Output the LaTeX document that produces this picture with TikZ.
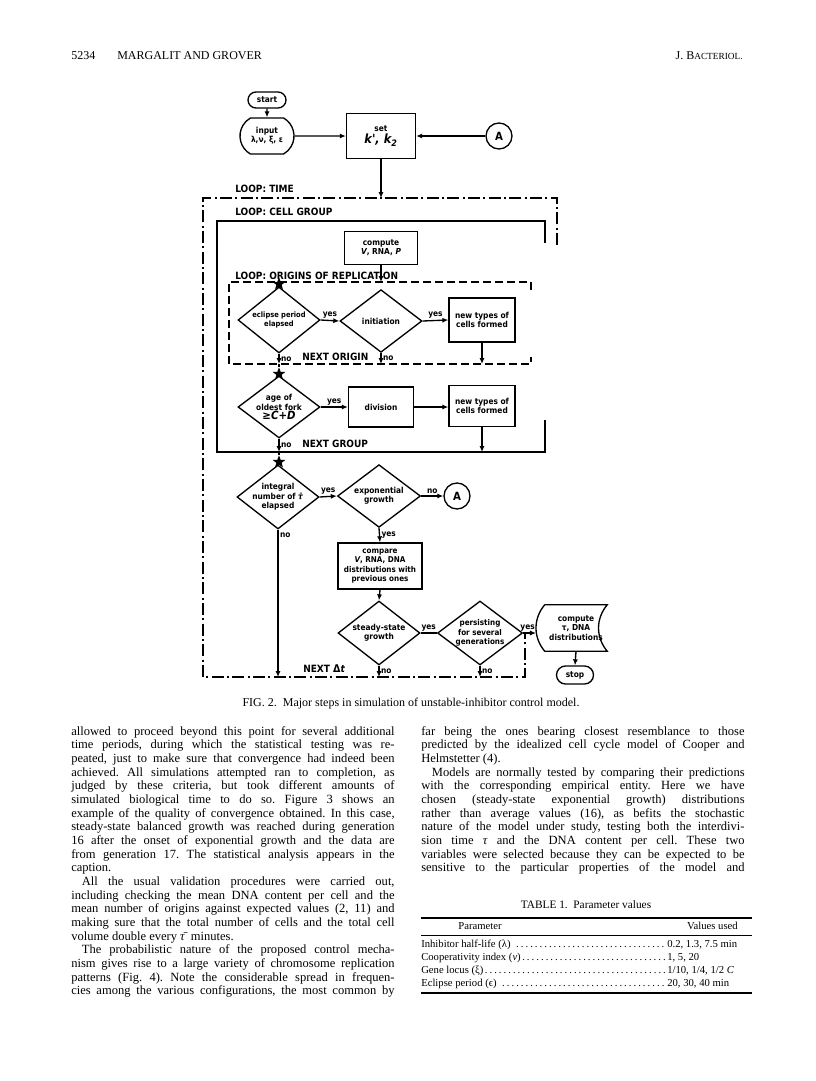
\documentclass[tikz,border=0pt]{standalone}
\usepackage{fontspec}
\setmainfont{Liberation Serif}
\newfontfamily\flowfont{DejaVu Sans Condensed}
\usetikzlibrary{arrows.meta, shapes.geometric, shapes.misc}

\newlength{\colw}\setlength{\colw}{242.5pt}
\newlength{\parind}\setlength{\parind}{8pt}
% justified, indented and last lines of a column
\newcommand{\jl}[1]{\makebox[\colw][s]{#1}}
\newcommand{\il}[1]{\hspace*{\parind}\makebox[\dimexpr\colw-\parind\relax][s]{#1}}
\newcommand{\rl}[1]{#1}
\frenchspacing

\begin{document}
\begin{tikzpicture}[
        x=0.75pt, y=-0.75pt,
        font=\flowfont\bfseries\fontsize{6.2}{7}\selectfont,
        box/.style={draw, line width=1pt, align=center, inner sep=0pt},
        dia/.style={draw, diamond, line width=1pt, inner sep=0pt, minimum width=61.5pt, minimum height=48pt},
        term/.style={draw, rounded rectangle, line width=1pt, inner sep=0pt, align=center},
        conn/.style={draw, circle, line width=1pt, inner sep=0pt, minimum size=19.5pt, font=\flowfont\bfseries\fontsize{8.5}{9}\selectfont},
        junct/.style={star, star points=5, star point ratio=2.4, fill, inner sep=0pt, minimum size=10pt},
        flow/.style={line width=1pt},
        arr/.style={-{Latex[length=4.5pt, width=3.8pt]}, line width=1pt},
        yn/.style={inner sep=1pt},
        loopname/.style={font=\flowfont\bfseries\fontsize{7.5}{8}\selectfont, anchor=base west, inner sep=0pt},
        tloop/.style={line width=1.1pt, dash pattern=on 9pt off 2.5pt on 1.5pt off 2.5pt},
        cloop/.style={line width=1.4pt},
        oloop/.style={line width=1.1pt, dash pattern=on 6pt off 3pt},
        body/.style={font=\normalfont\fontsize{9.4}{10}\selectfont, anchor=base west, inner sep=0pt},
        tab/.style={font=\normalfont\fontsize{8}{9}\selectfont, anchor=base west, inner sep=0pt}
    ]
    \useasboundingbox (0,0) rectangle (816,1081);

    % running head
    \node[body, font=\normalfont\fontsize{9}{10}\selectfont] (pgno) at (71,60) {5234};
    \node[body, font=\normalfont\fontsize{9}{10}\selectfont] (authors) at (117,60) {MARGALIT AND GROVER};
    \node[body, font=\normalfont\fontsize{9}{10}\selectfont, anchor=base east] (journal) at (743,60) {J. B{\fontsize{7}{8}\selectfont ACTERIOL.}};

    % loop frames
    \coordinate (tl) at (203,198);
    \coordinate (tr) at (557,198);
    \coordinate (trg) at (557,245);
    \coordinate (bl) at (203,677);
    \coordinate (br) at (525,677);
    \coordinate (brg) at (525,634);
    \coordinate (cl) at (217,221);
    \coordinate (cr) at (545,221);
    \coordinate (crg) at (545,243);
    \coordinate (cgb) at (217,452);
    \coordinate (cbr) at (545,452);
    \coordinate (cbrg) at (545,420);
    \coordinate (ol) at (229,282);
    \coordinate (orr) at (531,282);
    \coordinate (org) at (531,290);
    \coordinate (olb) at (229,364);
    \coordinate (obr) at (531,364);
    \coordinate (obrg) at (531,357);

    \draw[tloop] (trg) -- (tr) -- (tl) -- (bl) -- (br) -- (brg);
    \draw[cloop] (crg) -- (cr) -- (cl) -- (cgb) -- (cbr) -- (cbrg);
    \draw[oloop] (org) -- (orr) -- (ol) -- (olb) -- (obr) -- (obrg);

    \node[loopname] (ltime) at (235,192) {LOOP: TIME};
    \node[loopname] (lcell) at (235,215) {LOOP: CELL GROUP};
    \node[loopname] (lorig) at (235,279) {LOOP: ORIGINS OF REPLICATION};
    \node[loopname] (norig) at (302,360) {NEXT ORIGIN};
    \node[loopname] (ngroup) at (302,447) {NEXT GROUP};
    \node[loopname] (ntime) at (303,672) {NEXT {\fontsize{8}{9}\selectfont Δ}\textit{t}};

    % top of chart
    \node[term, minimum width=28.5pt, minimum height=12pt] (start) at (267,100) {start};
    \node[term, rounded rectangle arc length=120, minimum width=40.5pt, minimum height=27pt] (inp) at (267,136) {input\\λ,ν, ξ, ε};
    \node[box, minimum width=51.75pt, minimum height=33.75pt] (set) at (381,136) {set\\[1pt]{\fontsize{9.5}{10}\selectfont\itshape k', k\textsubscript{2}}};
    \node[conn] (a1) at (499,136) {A};

    % origins loop
    \node[box, minimum width=54.75pt, minimum height=24.75pt] (cmp1) at (381,248) {compute\\\textit{V}, RNA, \textit{P}};
    \node[junct] (s1) at (279,284) {};
    \node[dia, minimum height=49.5pt, label={[align=center, font=\flowfont\bfseries\fontsize{5.6}{6.6}\selectfont]center:{eclipse period\\elapsed}}] (ecl) at (279,320) {};
    \node[dia, minimum height=47pt, label=center:{initiation}] (init) at (381,321) {};
    \node[box, minimum width=49.5pt, minimum height=33pt] (nt1) at (482,320) {new types of\\cells formed};

    % cell group loop
    \node[junct] (s2) at (279,374) {};
    \node[dia, minimum height=46.5pt, label={[align=center]center:{age of\\oldest fork\\{\fontsize{8.5}{8.5}\selectfont ≥\textit{C+D}}}}] (age) at (279,407) {};
    \node[box, minimum width=48.75pt, minimum height=30pt] (div) at (381,407) {division};
    \node[box, minimum width=49.5pt, minimum height=30.75pt] (nt2) at (482,406) {new types of\\cells formed};

    % time loop
    \node[junct] (s3) at (279,462) {};
    \node[dia, label={[align=center]center:{integral\\number of \textit{τ̄}\\elapsed}}] (integ) at (278,497) {};
    \node[dia, minimum width=62.25pt, minimum height=47pt, label={[align=center]center:{exponential\\growth}}] (expo) at (379,496) {};
    \node[conn] (a2) at (457,496) {A};
    \node[box, minimum width=63pt, minimum height=34.5pt, font=\flowfont\bfseries\fontsize{6}{6.9}\selectfont] (cmp2) at (380,566) {compare\\\textit{V}, RNA, DNA\\distributions with\\previous ones};
    \node[dia, label={[align=center]center:{steady-state\\growth}}] (steady) at (379,633) {};
    \node[dia, minimum width=63.75pt, label={[align=center, font=\flowfont\bfseries\fontsize{6}{6.9}\selectfont]center:{persisting\\for several\\generations}}] (persist) at (480,633) {};
    \node[align=center, inner sep=0pt, minimum width=46.5pt, minimum height=34.5pt] (cmpt) at (576,628) {compute\\τ, DNA\\distributions};
    \draw[flow] (cmpt.north west) -- (cmpt.north east) to[bend right=40] (cmpt.south east)
        -- (cmpt.south west) to[bend left=40] coordinate[pos=0.5] (cmptw) (cmpt.north west);
    \node[term, minimum width=27.75pt, minimum height=13.5pt] (stop) at (575,675) {stop};

    % connectors
    \draw[arr] (start) -- (inp);
    \draw[arr] (inp) -- (set);
    \draw[arr] (a1) -- (set);
    \draw[arr] (set.south) -- (set.south |- tl);
    \draw[arr] (cmp1.south) -- (cmp1.south |- ol);
    \draw[arr] (ecl.east) -- (init.west) node[yn, above, midway] (y1) {yes};
    \draw[arr] (init.east) -- (nt1.west) node[yn, above, midway] (y2) {yes};
    \draw[arr] (nt1.south) -- (nt1.south |- olb);
    \draw[arr] (ecl.south) -- (ecl.south |- olb) node[yn, right, midway] (n1) {no};
    \draw[arr] (init.south) -- (init.south |- olb) node[yn, right, midway] (n2) {no};
    \draw[flow] (ecl.south |- olb) -- (s2);
    \draw[arr] (age.east) -- (div.west) node[yn, above, midway] (y3) {yes};
    \draw[arr] (div.east) -- (div.east -| nt2.west);
    \draw[arr] (nt2.south) -- (nt2.south |- cgb);
    \draw[arr] (age.south) -- (age.south |- cgb) node[yn, right, midway] (n3) {no};
    \draw[flow] (age.south |- cgb) -- (s3);
    \draw[arr] (integ.east) -- (expo.west) node[yn, above, midway] (y4) {yes};
    \draw[arr] (expo.east) -- (a2.west) node[yn, above, midway] (n4) {no};
    \draw[arr] (expo.south) -- (cmp2.north) node[yn, right, midway] (y5) {yes};
    \draw[arr] (cmp2.south) -- (steady.north);
    \draw[flow] (steady.east) -- (persist.west) node[yn, above, midway] (y6) {yes};
    \draw[arr] (persist.east) -- (persist.east -| cmptw) node[yn, above, pos=0.35] (y7) {yes};
    \draw[arr] (cmpt.south) -- (stop.north);
    \draw[arr] (integ.south) -- (integ.south |- bl) node[yn, right, pos=0.04] (n5) {no};
    \draw[arr] (steady.south) -- (steady.south |- bl) node[yn, right, midway] (n6) {no};
    \draw[arr] (persist.south) -- (persist.south |- bl) node[yn, right, midway] (n7) {no};

    % caption
    \node[body, anchor=base, font=\normalfont\fontsize{9}{10}\selectfont] (cap) at (411,706) {FIG.\ 2.\ \ Major steps in simulation of unstable-inhibitor control model.};

    % left column
    \foreach \t [count=\i] in {
        {\jl{allowed to proceed beyond this point for several additional}},
        {\jl{time periods, during which the statistical testing was re-}},
        {\jl{peated, just to make sure that convergence had indeed been}},
        {\jl{achieved. All simulations attempted ran to completion, as}},
        {\jl{judged by these criteria, but took different amounts of}},
        {\jl{simulated biological time to do so. Figure 3 shows an}},
        {\jl{example of the quality of convergence obtained. In this case,}},
        {\jl{steady-state balanced growth was reached during generation}},
        {\jl{16 after the onset of exponential growth and the data are}},
        {\jl{from generation 17. The statistical analysis appears in the}},
        {\rl{caption.}},
        {\il{All the usual validation procedures were carried out,}},
        {\jl{including checking the mean DNA content per cell and the}},
        {\jl{mean number of origins against expected values (2, 11) and}},
        {\jl{making sure that the total number of cells and the total cell}},
        {\rl{volume double every \textit{τ̄} minutes.}},
        {\il{The probabilistic nature of the proposed control mecha-}},
        {\jl{nism gives rise to a large variety of chromosome replication}},
        {\jl{patterns (Fig. 4). Note the considerable spread in frequen-}},
        {\jl{cies among the various configurations, the most common by}}}
        \node[body] (lc\i) at (71,{735+13.68*(\i-1)}) {\t};

    % right column
    \foreach \t [count=\i] in {
        {\jl{far being the ones bearing closest resemblance to those}},
        {\jl{predicted by the idealized cell cycle model of Cooper and}},
        {\rl{Helmstetter (4).}},
        {\il{Models are normally tested by comparing their predictions}},
        {\jl{with the corresponding empirical entity. Here we have}},
        {\jl{chosen (steady-state exponential growth) distributions}},
        {\jl{rather than average values (16), as befits the stochastic}},
        {\jl{nature of the model under study, testing both the interdivi-}},
        {\jl{sion time \textit{τ} and the DNA content per cell. These two}},
        {\jl{variables were selected because they can be expected to be}},
        {\jl{sensitive to the particular properties of the model and}}}
        \node[body] (rc\i) at (421,{735+13.68*(\i-1)}) {\t};

    % table
    \node[tab, anchor=base, font=\normalfont\fontsize{8.5}{9}\selectfont] (ttitle) at (586,908) {TABLE 1.\ \ Parameter values};
    \coordinate (tru) at (421,918);
    \coordinate (tre) at (752,918);
    \draw[line width=0.9pt] (tru) -- (tre);
    \draw[line width=0.5pt] (tru |- 0,935) -- (tre |- 0,935);
    \draw[line width=0.9pt] (tru |- 0,993) -- (tre |- 0,993);
    \node[tab, anchor=base] (thpar) at (480,929) {Parameter};
    \node[tab, anchor=base east] (thval) at (738,929) {Values used};
    \node[tab] (tr1) at (421,947) {\hbox to 184.5pt{Inhibitor half-life (λ) \dotfill}0.2, 1.3, 7.5 min};
    \node[tab] (tr2) at (421,960) {\hbox to 184.5pt{Cooperativity index (\textit{ν})\dotfill}1, 5, 20};
    \node[tab] (tr3) at (421,973) {\hbox to 184.5pt{Gene locus (ξ)\dotfill}1/10, 1/4, 1/2 \textit{C}};
    \node[tab] (tr4) at (421,986) {\hbox to 184.5pt{Eclipse period (ϵ) \dotfill}20, 30, 40 min};
\end{tikzpicture}
\end{document}
